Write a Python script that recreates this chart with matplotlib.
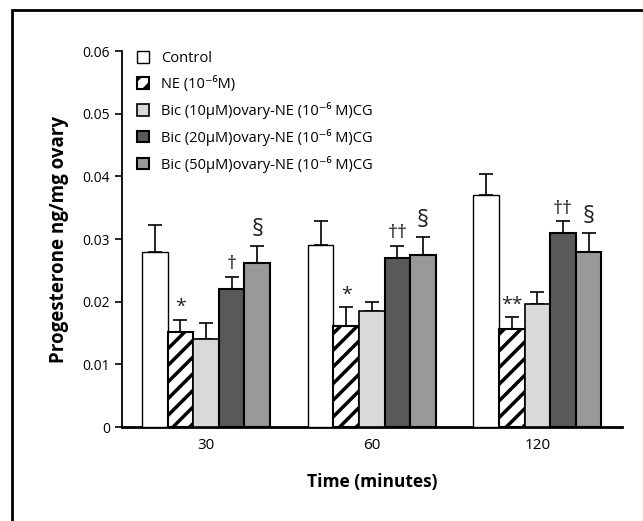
import matplotlib
matplotlib.use('Agg')
import matplotlib.pyplot as plt
import numpy as np
from matplotlib.patches import Rectangle

plt.rcParams['font.family'] = ['Open Sans', 'DejaVu Sans']
plt.rcParams['hatch.linewidth'] = 2.5

times = ['30', '60', '120']
labels = ['Control', 'NE (10⁻⁶M)', 'Bic (10μM)ovary-NE (10⁻⁶ M)CG',
          'Bic (20μM)ovary-NE (10⁻⁶ M)CG', 'Bic (50μM)ovary-NE (10⁻⁶ M)CG']

control = [0.028, 0.029, 0.037]
control_err = [0.0042, 0.0038, 0.0034]
ne = [0.0151, 0.0161, 0.0156]
ne_err = [0.0020, 0.0030, 0.0019]
bic10 = [0.0140, 0.0185, 0.0196]
bic10_err = [0.0026, 0.0015, 0.0019]
bic20 = [0.0221, 0.0270, 0.0310]
bic20_err = [0.0019, 0.0019, 0.0018]
bic50 = [0.0261, 0.0275, 0.0280]
bic50_err = [0.0028, 0.0029, 0.0030]

marks_ne = ['*', '*', '**']
marks_bic20 = ['†', '††', '††']
marks_bic50 = ['§', '§', '§']

series = [control, ne, bic10, bic20, bic50]
errors = [control_err, ne_err, bic10_err, bic20_err, bic50_err]
colors = ['white', 'white', '#d9d9d9', '#595959', '#999999']
hatches = [None, '//', None, None, None]
edge_w = [1.0, 1.5, 1.2, 1.5, 1.5]

fig = plt.figure(figsize=(6.43, 5.21), dpi=100)
ax = fig.add_axes([0.1897, 0.1804, 0.7776, 0.7217])

x = np.arange(len(times))
w = 0.1545
for i, (vals, errs) in enumerate(zip(series, errors)):
    pos = x + (i - 2) * w
    ax.bar(pos, vals, w, color=colors[i], edgecolor='black', hatch=hatches[i],
           linewidth=edge_w[i], label=labels[i], zorder=3)
    ax.errorbar(pos, vals, yerr=[np.zeros(len(vals)), errs], fmt='none',
                ecolor='black', elinewidth=1.2, capsize=5, capthick=1.2, zorder=2)

# significance marks
for i, marks in [(1, marks_ne), (3, marks_bic20), (4, marks_bic50)]:
    pos = x + (i - 2) * w
    for j in range(len(times)):
        top = series[i][j] + errors[i][j]
        size = 17 if marks[j] == '§' else 14
        ax.text(pos[j], top + 0.0006, marks[j], ha='center', va='bottom',
                fontsize=size, color='#222222')

ax.set_xlim(-0.507, 2.51)
ax.set_ylim(0, 0.06)
ax.set_yticks([0, 0.01, 0.02, 0.03, 0.04, 0.05, 0.06])
ax.set_yticklabels(['0', '0.01', '0.02', '0.03', '0.04', '0.05', '0.06'])
ax.set_xticks(x)
ax.set_xticklabels(times)
ax.tick_params(axis='x', length=0, labelsize=11, pad=8)
ax.tick_params(axis='y', length=5, width=1.2, labelsize=10, direction='out')
ax.spines['top'].set_visible(False)
ax.spines['right'].set_visible(False)
ax.spines['left'].set_linewidth(1.3)
ax.spines['bottom'].set_linewidth(2)

ax.set_ylabel('Progesterone ng/mg ovary', fontsize=13.5, fontweight='bold', labelpad=10)
ax.set_xlabel('Time (minutes)', fontsize=12.5, fontweight='bold', labelpad=14)

ax.legend(loc='upper left', bbox_to_anchor=(0.003, 1.035), frameon=False,
          fontsize=10.5, handlelength=0.85, handleheight=0.85, labelspacing=0.68,
          handletextpad=0.8)

# outer frame (right and bottom edges fall outside the picture)
fig.patches.append(Rectangle((12 / 643, -0.1), 1.1, 1.1 - 10 / 521,
                             transform=fig.transFigure, fill=False,
                             edgecolor='black', linewidth=2))

fig.savefig('out.png', dpi=100)
